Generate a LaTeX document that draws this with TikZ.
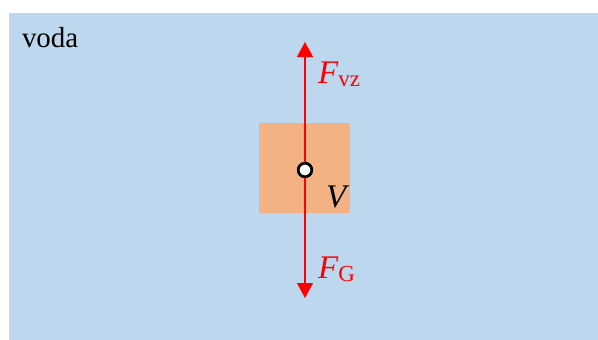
\documentclass[tikz,border=0pt]{standalone}
\usepackage{fontspec}
\setmainfont{Liberation Serif}
\usetikzlibrary{arrows.meta}
\definecolor{water}{HTML}{BDD7EE}
\definecolor{body}{HTML}{F4B183}
\definecolor{force}{HTML}{FF0000}
\tikzset{
  lbl/.style={anchor=base west, inner sep=0pt, outer sep=0pt},
  forcearrow/.style={draw=force, line width=1.3pt, -{Triangle[length=15pt,width=16pt]}},
  centre/.style={circle, draw=black, fill=white, line width=2.6pt, minimum size=13.5pt, inner sep=0pt},
}
\begin{document}
\begin{tikzpicture}[x=1pt,y=-1pt]
\useasboundingbox (0,0) rectangle (598,340);
\fill[water] (9,13) rectangle (598,340);
\node[lbl, font=\fontsize{29}{29}\selectfont] (voda) at (22,48) {voda};
\fill[body] (259,123) rectangle (350,213);
\coordinate (top) at (305,42);
\coordinate (bot) at (305,298);
\node[centre] (c) at (305,170) {};
\draw[forcearrow] (c.center) -- (top);
\draw[forcearrow] (c.center) -- (bot);
\node[centre] at (c) {};
\node[lbl, text=force, font=\fontsize{33}{33}\selectfont] (fvz) at (318,83) {\textit{F}\raisebox{-3pt}{\fontsize{23}{23}\selectfont vz}};
\node[lbl, text=force, font=\fontsize{33}{33}\selectfont] (fg) at (318,278) {\textit{F}\raisebox{-3pt}{\fontsize{23}{23}\selectfont G}};
\node[lbl, font=\fontsize{33}{33}\selectfont] (v) at (326,207) {\textit{V}};
\end{tikzpicture}
\end{document}
